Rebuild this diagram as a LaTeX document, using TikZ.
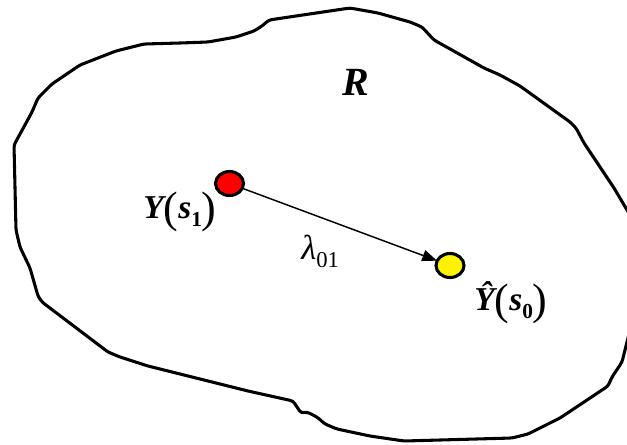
\documentclass[tikz,border=0pt]{standalone}
\usepackage{fontspec}
\setmainfont{Liberation Serif}
\usetikzlibrary{arrows.meta,shapes.geometric}
\newcommand{\bi}[2]{{\fontsize{#1}{#1}\selectfont\bfseries\itshape #2}}
\newcommand{\paren}[1]{{\fontsize{33}{33}\selectfont\raisebox{-3.5pt}{#1}}}
\newcommand{\subb}[1]{\raisebox{-6pt}{\fontsize{16}{16}\selectfont\bfseries #1}}
\tikzset{
  region/.style={line width=2.3pt, line join=round, rounded corners=2pt},
  dot/.style={draw, ellipse, line width=2.3pt, inner sep=0pt, minimum width=21pt, minimum height=18pt},
  conn/.style={line width=1.1pt, -{Triangle[length=11pt,width=8.5pt]}, shorten >=-1pt},
  lbl/.style={inner sep=0pt}
}
\begin{document}
\begin{tikzpicture}[x=0.75pt,y=-0.75pt]
\useasboundingbox (0,0) rectangle (627,444);
\clip (0,0) rectangle (627,444);
\fill[white] (0,0) rectangle (627,444);
\draw[region] (350,8) -- (269,20) -- (262,26) -- (254,31) -- (236,37) -- (208,42) -- (180,43) -- (144,44)
  -- (116,51) -- (80,65) -- (52,84) -- (38,98) -- (32,112) -- (14,145) -- (16,230) -- (20,247)
  -- (30,268) -- (38,296) -- (42,302) -- (108,352) -- (120,357) -- (148,366) -- (200,379)
  -- (248,391) -- (293,401) -- (301,413) -- (307,412) -- (317,417) -- (325,424) -- (337,429)
  -- (370,436) -- (404,441) -- (512,438) -- (528,434) -- (560,418) -- (608,386) -- (612,377)
  -- (622,362) -- (630,330) -- (634,270) -- (630,215) -- (614,188) -- (584,143) -- (576,128)
  -- (570,122) -- (520,86) -- (500,75) -- (484,68) -- (434,40) -- (422,27) -- (410,22)
  -- (378,13) -- cycle;
\node[lbl] (R) at (356,82) {\bi{30}{R}};
\node[dot, fill=red] (s1) at (229.5,183.5) {};
\node[dot, fill=yellow] (s0) at (450,265.5) {};
\draw[conn] (s1) -- (s0);
\node[lbl, anchor=base west] (ys1) at (143,218) {\bi{25}{Y}\paren{(}\bi{25}{s}\subb{1}\paren{)}};
\node[lbl, anchor=base west] (lam) at (301,259) {{\fontsize{26}{26}\selectfont\itshape λ}\raisebox{-6pt}{\fontsize{17}{17}\selectfont 01}};
\node[lbl, anchor=base west] (ys0) at (474,310) {\bi{25}{Ŷ}\paren{(}\bi{25}{s}\subb{0}\paren{)}};
\end{tikzpicture}
\end{document}
